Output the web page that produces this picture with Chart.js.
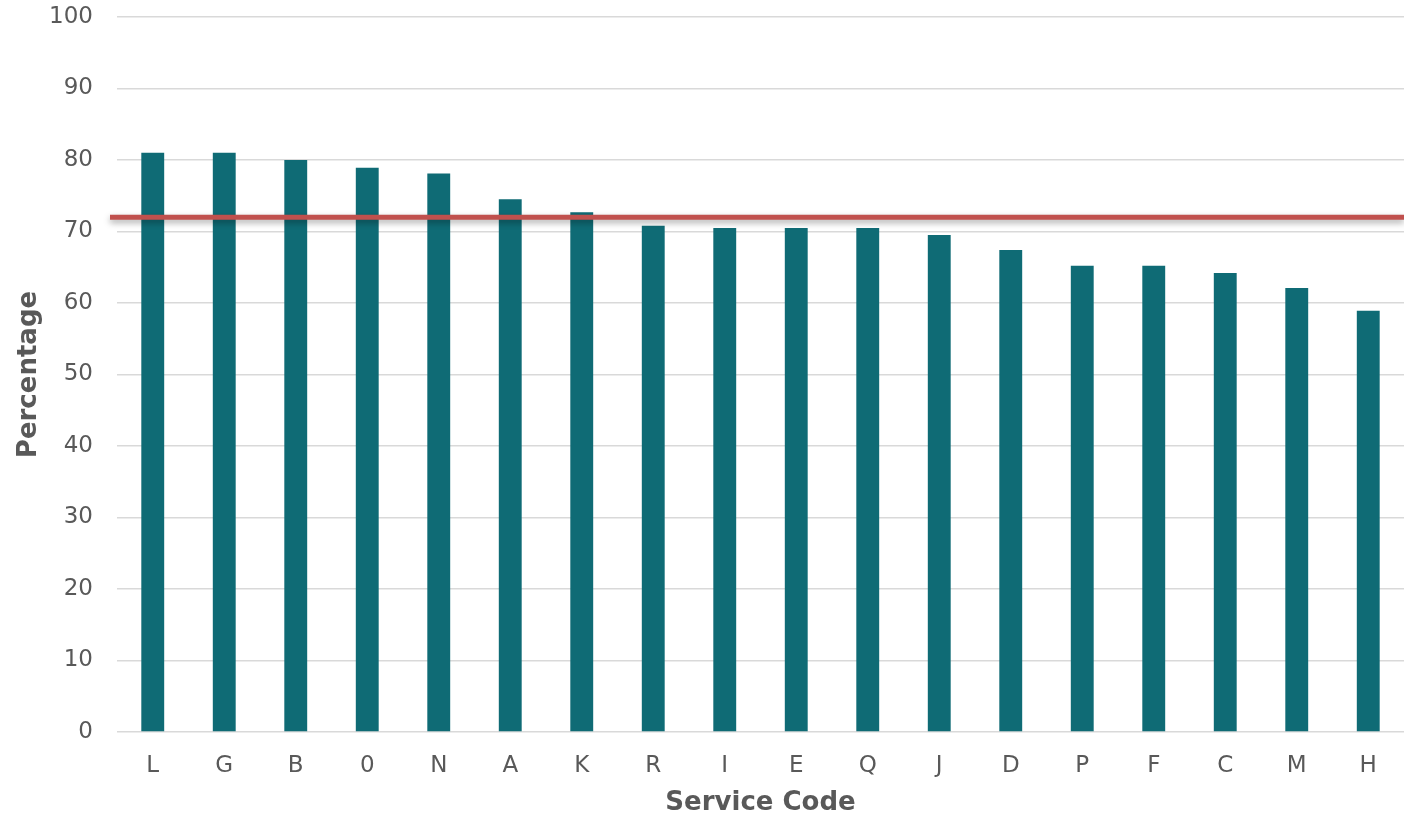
<!DOCTYPE html>
<html>
<head>
<meta charset="utf-8">
<script src="https://cdn.jsdelivr.net/npm/chart.js@4.4.1/dist/chart.umd.min.js"></script>
<style>
  html, body { margin: 0; padding: 0; background: #fff; }
  #wrap { width: 1404px; height: 815px; }
</style>
</head>
<body>
<div id="wrap"><canvas id="chart" width="1404" height="815"></canvas></div>
<script>
// Data
const serviceCodes = ['L', 'G', 'B', '0', 'N', 'A', 'K', 'R', 'I', 'E', 'Q', 'J', 'D', 'P', 'F', 'C', 'M', 'H'];
const percentages = [81.0, 81.0, 80.0, 78.9, 78.1, 74.5, 72.7, 70.8, 70.5, 70.5, 70.5, 69.5, 67.4, 65.2, 65.2, 64.2, 62.1, 58.9];
const averageLine = [72];
const yTicks = [0, 10, 20, 30, 40, 50, 60, 70, 80, 90, 100];

const textColor = '#595959';
const fontFamily = '"DejaVu Sans", Verdana, sans-serif';

// Draws the average line across the whole plot, with a soft shadow
const averageLinePlugin = {
  id: 'averageLine',
  afterDatasetsDraw(chart) {
    const { ctx, chartArea, scales } = chart;
    const y = scales.y.getPixelForValue(averageLine[0]);
    ctx.save();
    ctx.shadowColor = 'rgba(0,0,0,0.35)';
    ctx.shadowBlur = 6;
    ctx.shadowOffsetY = 3;
    ctx.strokeStyle = '#c0504d';
    ctx.lineWidth = 5;
    ctx.beginPath();
    ctx.moveTo(chartArea.left - 7, y);
    ctx.lineTo(chartArea.right, y);
    ctx.stroke();
    ctx.restore();
  }
};

const ctx = document.getElementById('chart').getContext('2d');
const chart = new Chart(ctx, {
  type: 'bar',
  data: {
    labels: serviceCodes,
    datasets: [{
      data: percentages,
      backgroundColor: '#0f6b75',
      borderWidth: 0,
      barPercentage: 0.32,
      categoryPercentage: 1.0
    }]
  },
  options: {
    responsive: false,
    animation: false,
    layout: { padding: { top: 17, right: 0, left: 0, bottom: 0 } },
    plugins: {
      legend: { display: false },
      tooltip: { enabled: false }
    },
    scales: {
      x: {
        grid: { display: false, drawTicks: false },
        border: { display: false },
        ticks: {
          color: textColor,
          padding: 20,
          font: { family: fontFamily, size: 23 },
          maxRotation: 0
        },
        title: {
          display: true,
          text: 'Service Code',
          color: textColor,
          font: { family: fontFamily, size: 26, weight: 'bold', lineHeight: 0.9 },
          padding: { top: 8, bottom: 0 }
        },
        afterFit(scale) { scale.height = 83; }
      },
      y: {
        min: 0,
        max: 100,
        afterBuildTicks(scale) { scale.ticks = yTicks.map(v => ({ value: v })); },
        grid: { color: '#d9d9d9', lineWidth: 1.5, drawTicks: false },
        border: { display: false },
        ticks: {
          color: textColor,
          padding: 24,
          font: { family: fontFamily, size: 23 }
        },
        title: {
          display: true,
          text: 'Percentage',
          color: textColor,
          font: { family: fontFamily, size: 26, weight: 'bold' },
          padding: { top: 14, bottom: 0 }
        },
        afterFit(scale) {
          scale.width = 117;
          scale.paddingTop = 0;
          scale.paddingBottom = 0;
        }
      }
    }
  },
  plugins: [averageLinePlugin]
});
</script>
</body>
</html>
